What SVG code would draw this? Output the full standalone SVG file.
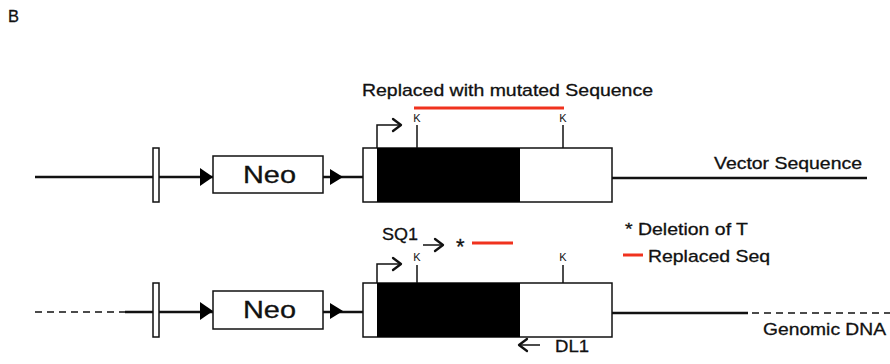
<svg xmlns="http://www.w3.org/2000/svg" width="890" height="364" viewBox="0 0 890 364">
<style>
text{font-family:"Liberation Sans",Arial,sans-serif;fill:#111;stroke:#111;stroke-width:0.3}
.ln{stroke:#111;stroke-width:2.5;fill:none}
.dash{stroke:#111;stroke-width:1.5;fill:none;stroke-dasharray:7,5}
.box{fill:#fff;stroke:#111;stroke-width:1.5}
.blk{fill:#000}
.tick{stroke:#111;stroke-width:1.5;fill:none}
.red{stroke:#f0321e;stroke-width:3}
.tri{fill:#000}
.chev{stroke:#111;stroke-width:2.3;fill:none;stroke-linecap:round;stroke-linejoin:round}
.k{font-size:11px;stroke-width:0}
.lbl{font-size:17px}
.neo{font-size:23px}
</style>
<text x="8" y="22" font-size="17" textLength="11" lengthAdjust="spacingAndGlyphs" stroke-width="0">B</text>

<g id="connectors">
<line class="ln" x1="35" y1="177" x2="363" y2="177"/>
<line class="ln" x1="612" y1="178" x2="867" y2="178"/>
<line class="dash" x1="35" y1="312" x2="125" y2="312"/>
<line class="ln" x1="125" y1="312" x2="363" y2="312"/>
<line class="ln" x1="612" y1="313" x2="748" y2="313"/>
<line class="dash" x1="752" y1="313" x2="890" y2="313"/>
</g>

<g id="top-row">
<rect class="box" x="153" y="148" width="6" height="54"/>
<polygon class="tri" points="200,168 213,177 200,186"/>
<g id="neo-top"><rect class="box" x="213" y="156" width="110" height="37"/><text class="neo" x="243" y="183" textLength="53" lengthAdjust="spacingAndGlyphs">Neo</text></g>
<polygon class="tri" points="330,169 343,177 330,185"/>
<g id="gene-top">
<rect class="box" x="363" y="148" width="249" height="54"/>
<rect class="blk" x="377" y="148" width="143" height="54"/>
<polyline class="tick" points="377,148 377,125 401,125"/>
<polyline class="chev" points="393,119 401,125 393,131"/>
<line class="tick" x1="417" y1="125" x2="417" y2="148"/>
<line class="tick" x1="563" y1="125" x2="563" y2="148"/>
<text class="k" x="417" y="122" text-anchor="middle">K</text>
<text class="k" x="563" y="122" text-anchor="middle">K</text>
<line class="red" x1="414" y1="108" x2="564" y2="108"/>
<text class="lbl" x="362" y="96" textLength="291" lengthAdjust="spacingAndGlyphs">Replaced with mutated Sequence</text>
</g>
<text class="lbl" x="714" y="169" textLength="148" lengthAdjust="spacingAndGlyphs">Vector Sequence</text>
</g>

<g id="legend">
<text class="lbl" x="625" y="235" textLength="123" lengthAdjust="spacingAndGlyphs">* Deletion of T</text>
<line class="red" x1="623" y1="255" x2="643" y2="255"/>
<text class="lbl" x="648" y="262" textLength="122" lengthAdjust="spacingAndGlyphs">Replaced Seq</text>
</g>

<g id="bottom-row">
<rect class="box" x="153" y="283" width="6" height="54"/>
<polygon class="tri" points="200,302 213,311 200,320"/>
<g id="neo-bottom"><rect class="box" x="213" y="291" width="110" height="38"/><text class="neo" x="243" y="318" textLength="53" lengthAdjust="spacingAndGlyphs">Neo</text></g>
<polygon class="tri" points="330,303 343,311 330,319"/>
<g id="gene-bottom">
<rect class="box" x="363" y="283" width="249" height="54"/>
<rect class="blk" x="377" y="283" width="143" height="54"/>
<polyline class="tick" points="377,283 377,264 401,264"/>
<polyline class="chev" points="393,258 401,264 393,270"/>
<line class="tick" x1="417" y1="265" x2="417" y2="283"/>
<line class="tick" x1="563" y1="265" x2="563" y2="283"/>
<text class="k" x="417" y="261" text-anchor="middle">K</text>
<text class="k" x="563" y="261" text-anchor="middle">K</text>
</g>
<g id="sq1">
<text class="lbl" x="382" y="240" textLength="36" lengthAdjust="spacingAndGlyphs">SQ1</text>
<line class="tick" x1="423" y1="245" x2="443" y2="245"/>
<polyline class="chev" points="435,239 443,245 435,251"/>
<text x="456" y="254" font-size="22">*</text>
<line class="red" x1="472" y1="243" x2="513" y2="243"/>
</g>
<g id="dl1">
<line class="tick" x1="519" y1="345" x2="540" y2="345"/>
<polyline class="chev" points="527,339 519,345 527,351"/>
<text class="lbl" x="555" y="352" textLength="34" lengthAdjust="spacingAndGlyphs">DL1</text>
</g>
<text class="lbl" x="763" y="335" textLength="123" lengthAdjust="spacingAndGlyphs">Genomic DNA</text>
</g>
</svg>
